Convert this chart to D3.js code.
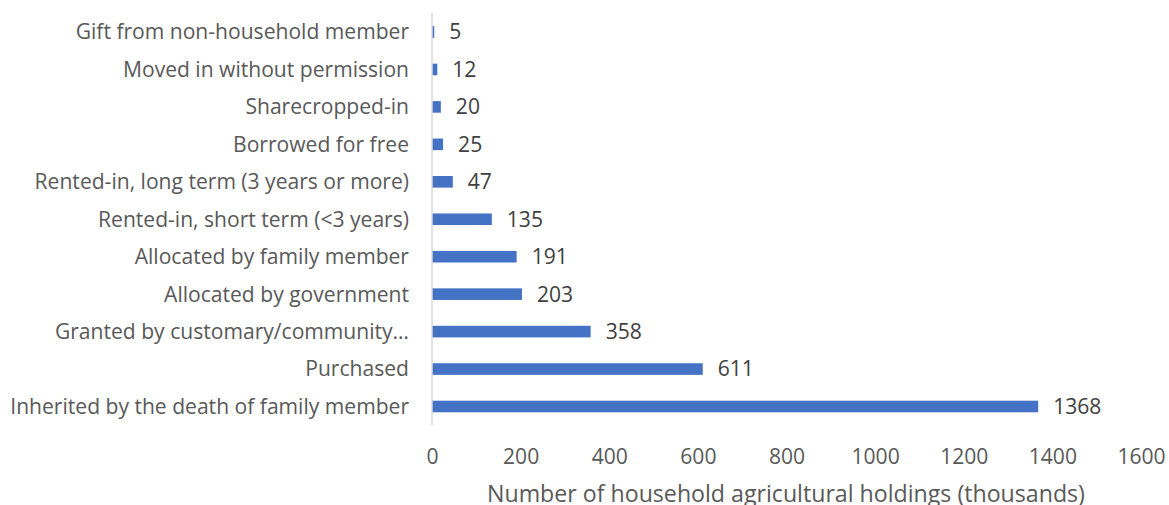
<!DOCTYPE html>
<html><head><meta charset="utf-8">
<script src="https://cdn.jsdelivr.net/npm/d3@7"></script>
<style>body{margin:0;background:#fff}svg{display:block}</style>
</head><body>
<svg id="c" width="1169" height="505"></svg>
<script>
const categories = ["Gift from non-household member","Moved in without permission","Sharecropped-in","Borrowed for free","Rented-in, long term (3 years or more)","Rented-in, short term (<3 years)","Allocated by family member","Allocated by government","Granted by customary/community\u2026","Purchased","Inherited by the death of family member"];
const values = [5,12,20,25,47,135,191,203,358,611,1368];
const xTicks = [0,200,400,600,800,1000,1200,1400,1600];
const axisTitle = "Number of household agricultural holdings (thousands)";

const svg = d3.select("#c");
const font = "'Open Sans', Lato, sans-serif";

// calibrate font size so the longest label matches the reference width
const probe = svg.append("text").attr("font-family",font).attr("font-size",20).text(categories[10]);
const fs = 20 * 399 / probe.node().getComputedTextLength();
probe.text(axisTitle);
const fsT = 20 * 598 / probe.node().getComputedTextLength();
probe.remove();

const x = d3.scaleLinear().domain([0,1600]).range([432,1141]);
const step = 37.45;
const y = d3.scaleBand().domain(categories).range([32 - step/2, 32 - step/2 + step*categories.length]).paddingInner(0.69).paddingOuter(0.345);

svg.append("g").selectAll("rect").data(values).join("rect")
  .attr("x", x(0)).attr("y", (d,i)=>y(categories[i]))
  .attr("width", d=>x(d)-x(0)).attr("height", y.bandwidth())
  .attr("fill", "#4472C4");

svg.append("line").attr("x1",432).attr("x2",432).attr("y1",13).attr("y2",425)
  .attr("stroke","#d9d9d9").attr("stroke-width",1.5);

svg.append("g").selectAll("text").data(categories).join("text")
  .attr("x",409).attr("y",d=>y(d)+y.bandwidth()/2).attr("dy","0.35em")
  .attr("text-anchor","end").attr("font-family",font).attr("font-size",fs)
  .attr("fill","#595959").text(d=>d);

svg.append("g").selectAll("text").data(values).join("text")
  .attr("x",d=>x(d)+15).attr("y",(d,i)=>y(categories[i])+y.bandwidth()/2).attr("dy","0.35em")
  .attr("font-family",font).attr("font-size",fs).attr("fill","#404040").text(d=>d);

const ax = d3.axisBottom(x).tickValues(xTicks).tickFormat(d3.format("d")).tickSize(0).tickPadding(0);
const g = svg.append("g").attr("transform","translate(0,450)").call(ax);
g.select(".domain").remove();
g.selectAll("text").attr("font-family",font).attr("font-size",fs).attr("fill","#595959").attr("dy","0.35em").attr("y",7);

svg.append("text").attr("x",786).attr("y",494).attr("dy","0.35em")
  .attr("text-anchor","middle").attr("font-family",font).attr("font-size",fsT).attr("fill","#595959").text(axisTitle);
</script>
</body></html>
